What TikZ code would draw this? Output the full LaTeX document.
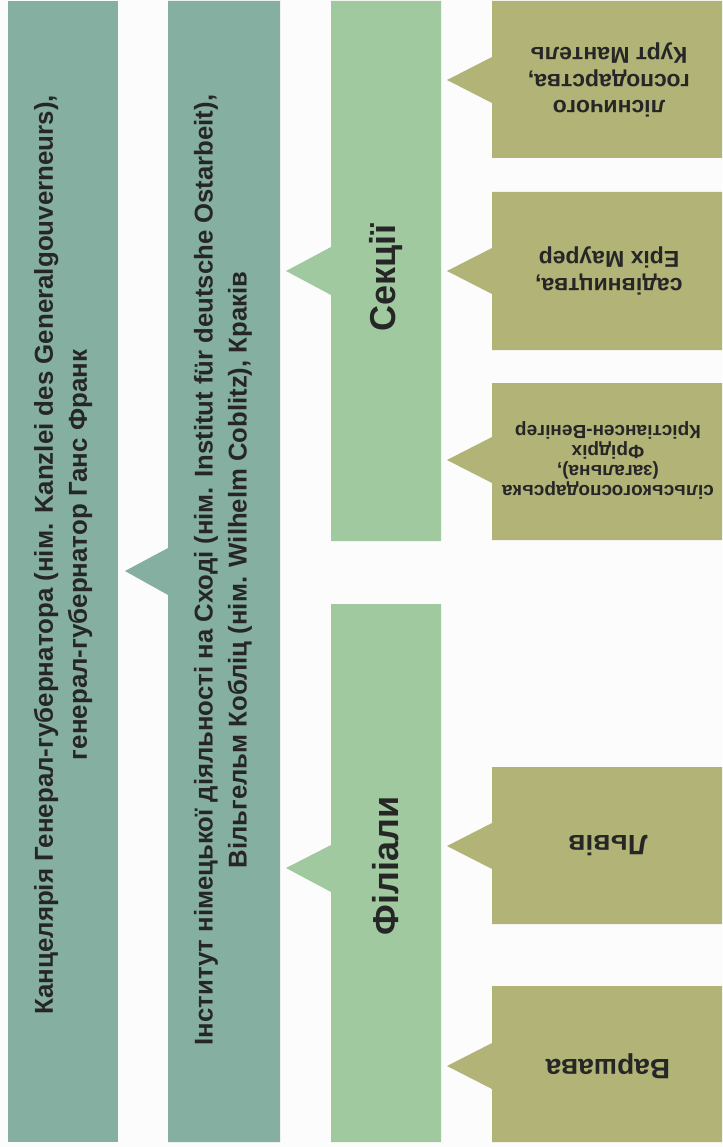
\documentclass[tikz,border=0pt]{standalone}
\usepackage{fontspec}
\setmainfont{Liberation Sans}
\definecolor{bgc}{HTML}{FCFCFC}
\definecolor{teal}{HTML}{85AFA0}
\definecolor{lgreen}{HTML}{A0C9A0}
\definecolor{olive}{HTML}{B1B377}
\definecolor{txt}{HTML}{262626}
\tikzset{
  lbl/.style={text=txt, font=\bfseries, align=center, inner sep=0pt},
  vlbl/.style={lbl, rotate=90},
  ulbl/.style={lbl, rotate=180},
}
\begin{document}
\begin{tikzpicture}[x=1pt,y=-1pt]
\fill[bgc] (0,0) rectangle (722,1147);
\useasboundingbox (0,0) rectangle (722,1147);
% column 1
\fill[teal] (8,1) rectangle (118,1142);
% column 2
\fill[teal] (168,1) -- (280,1) -- (280,1142) -- (168,1142) -- (168,595) -- (125,571) -- (168,548) -- cycle;
% column 3
\fill[lgreen] (331,1) -- (441,1) -- (441,541) -- (331,541) -- (331,295) -- (286,271) -- (331,247) -- cycle;
\fill[lgreen] (331,604) -- (441,604) -- (441,1142) -- (331,1142) -- (331,892) -- (286,868) -- (331,845) -- cycle;
% column 4
\foreach \ya/\yb/\yt in {1/158/80, 192/350/271, 383/540/460, 767/924/846, 986/1142/1066}{
  \fill[olive] (492,\ya) -- (722,\ya) -- (722,\yb) -- (492,\yb) -- (492,\yt+23) -- (447,\yt) -- (492,\yt-23) -- cycle;
}
\node[vlbl, font=\bfseries\fontsize{25.9}{34}\selectfont] (kanz) at (63,555)
  {Канцелярія Генерал-губернатора (нім. Kanzlei des Generalgouverneurs),\\генерал-губернатор Ганс Франк};
\node[vlbl, font=\bfseries\fontsize{25.7}{34}\selectfont] (inst) at (223,570)
  {Інститут німецької діяльності на Сході (нім. Institut für deutsche Ostarbeit),\\Вільгельм Кобліц (нім. Wilhelm Coblitz), Краків};
\node[vlbl, font=\bfseries\fontsize{36}{40}\selectfont] (sek) at (386,278) {Секції};
\node[vlbl, font=\bfseries\fontsize{36}{40}\selectfont] (fil) at (386,866) {Філіали};
\node[ulbl, font=\bfseries\fontsize{23}{26.7}\selectfont] (lis) at (609,80) {лісничого\\господарства,\\Курт Мантель};
\node[ulbl, font=\bfseries\fontsize{23}{26.7}\selectfont] (sad) at (609,271) {садівництва,\\Еріх Маурер};
\node[ulbl, font=\bfseries\fontsize{19}{20}\selectfont] (sil) at (608,460) {сільськогосподарська\\(загальна),\\Фрідріх\\Крістіансен-Венігер};
\node[ulbl, font=\bfseries\fontsize{28}{30}\selectfont] (lviv) at (608,846) {Львів};
\node[ulbl, font=\bfseries\fontsize{28}{30}\selectfont] (war) at (608,1066) {Варшава};
\end{tikzpicture}
\end{document}
